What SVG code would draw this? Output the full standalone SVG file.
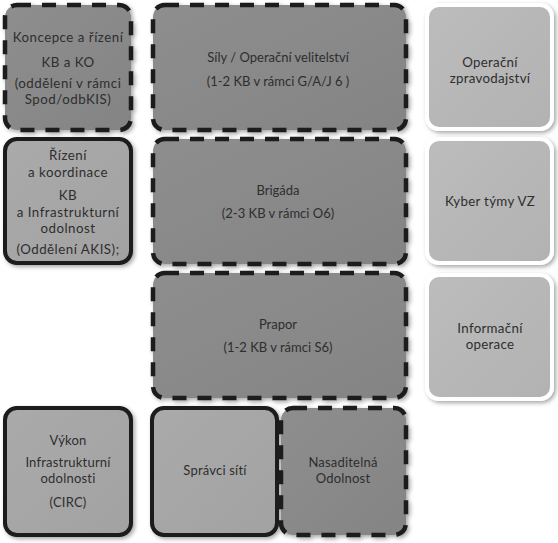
<svg xmlns="http://www.w3.org/2000/svg" width="558" height="543" viewBox="0 0 558 543">
<defs>
<filter id="sh" x="-10%" y="-10%" width="125%" height="125%">
<feDropShadow dx="2" dy="2" stdDeviation="2" flood-color="#000" flood-opacity="0.35"/>
</filter>
<linearGradient id="gd" x1="0" y1="0" x2="1" y2="1">
<stop offset="0" stop-color="#8e8e8e"/><stop offset="1" stop-color="#848484"/>
</linearGradient>
<linearGradient id="gl" x1="0" y1="0" x2="1" y2="1">
<stop offset="0" stop-color="#aaaaaa"/><stop offset="1" stop-color="#a2a2a2"/>
</linearGradient>
<linearGradient id="gw" x1="0" y1="0" x2="1" y2="1">
<stop offset="0" stop-color="#bcbcbc"/><stop offset="1" stop-color="#b2b2b2"/>
</linearGradient>
</defs>
<style>
.dash{fill:url(#gd);stroke:#1a1a1a;stroke-width:4.5;stroke-dasharray:14 11;filter:url(#sh)}
.solid{fill:url(#gl);stroke:#1a1a1a;stroke-width:4;filter:url(#sh)}
.white{fill:url(#gw);stroke:#ffffff;stroke-width:4;filter:url(#sh)}
text{font-family:"Lato","Open Sans","Liberation Sans",sans-serif;font-size:13px;fill:#2e2e2e;text-anchor:middle}
.big text{font-size:13.3px;letter-spacing:0.5px}
.rt text{font-size:13.3px;letter-spacing:0.3px}
.bt text{font-size:13px;letter-spacing:0.2px}
</style>
<rect width="558" height="543" fill="#ffffff"/>
<g id="connectors"></g>
<g id="koncepce" class="big">
<rect class="dash" x="5" y="5" width="126" height="125" rx="12"/>
<text x="68" y="42">Koncepce a řízení</text>
<text x="68" y="67">KB a KO</text>
<text x="68" y="87.5">(oddělení v rámci</text>
<text x="68" y="103.5">Spod/odbKIS)</text>
</g>
<g id="rizeni" class="big">
<rect class="solid" x="5" y="139" width="126" height="124" rx="12"/>
<text x="68" y="160">Řízení</text>
<text x="68" y="177">a koordinace</text>
<text x="68" y="200">KB</text>
<text x="68" y="216.5">a Infrastrukturní</text>
<text x="68" y="232.5">odolnost</text>
<text x="68" y="253.5">(Oddělení AKIS);</text>
</g>
<g id="sily">
<rect class="dash" x="153" y="5" width="253" height="125" rx="12"/>
<text x="278" y="62">Síly / Operační velitelství</text>
<text x="278" y="86">(1-2 KB v rámci G/A/J 6 )</text>
</g>
<g id="brigada">
<rect class="dash" x="153" y="139" width="253" height="125" rx="12"/>
<text x="278" y="195">Brigáda</text>
<text x="278" y="218">(2-3 KB v rámci O6)</text>
</g>
<g id="prapor">
<rect class="dash" x="153" y="273" width="253" height="125" rx="12"/>
<text x="278" y="329">Prapor</text>
<text x="278" y="352">(1-2 KB v rámci S6)</text>
</g>
<g id="operacni" class="rt">
<rect class="white" x="427" y="5" width="125" height="124" rx="12"/>
<text x="490" y="66.5">Operační</text>
<text x="490" y="82.5">zpravodajství</text>
</g>
<g id="kyber" class="rt">
<rect class="white" x="427" y="139" width="125" height="124" rx="12"/>
<text x="490" y="206">Kyber týmy VZ</text>
</g>
<g id="informacni" class="rt">
<rect class="white" x="427" y="275" width="125" height="124" rx="12"/>
<text x="490" y="332.5">Informační</text>
<text x="490" y="348.5">operace</text>
</g>
<g id="vykon" class="bt">
<rect class="solid" x="5" y="408" width="126" height="127" rx="12"/>
<text x="68" y="445">Výkon</text>
<text x="68" y="467">Infrastrukturní</text>
<text x="68" y="483">odolnosti</text>
<text x="68" y="507">(CIRC)</text>
</g>
<g id="spravci" class="bt">
<rect class="solid" x="152" y="408" width="125" height="127" rx="12"/>
<text x="215" y="475">Správci sítí</text>
</g>
<g id="nasaditelna" class="bt">
<rect class="dash" x="281" y="408" width="125" height="127" rx="12"/>
<text x="343" y="467">Nasaditelná</text>
<text x="343" y="483">Odolnost</text>
</g>
</svg>
